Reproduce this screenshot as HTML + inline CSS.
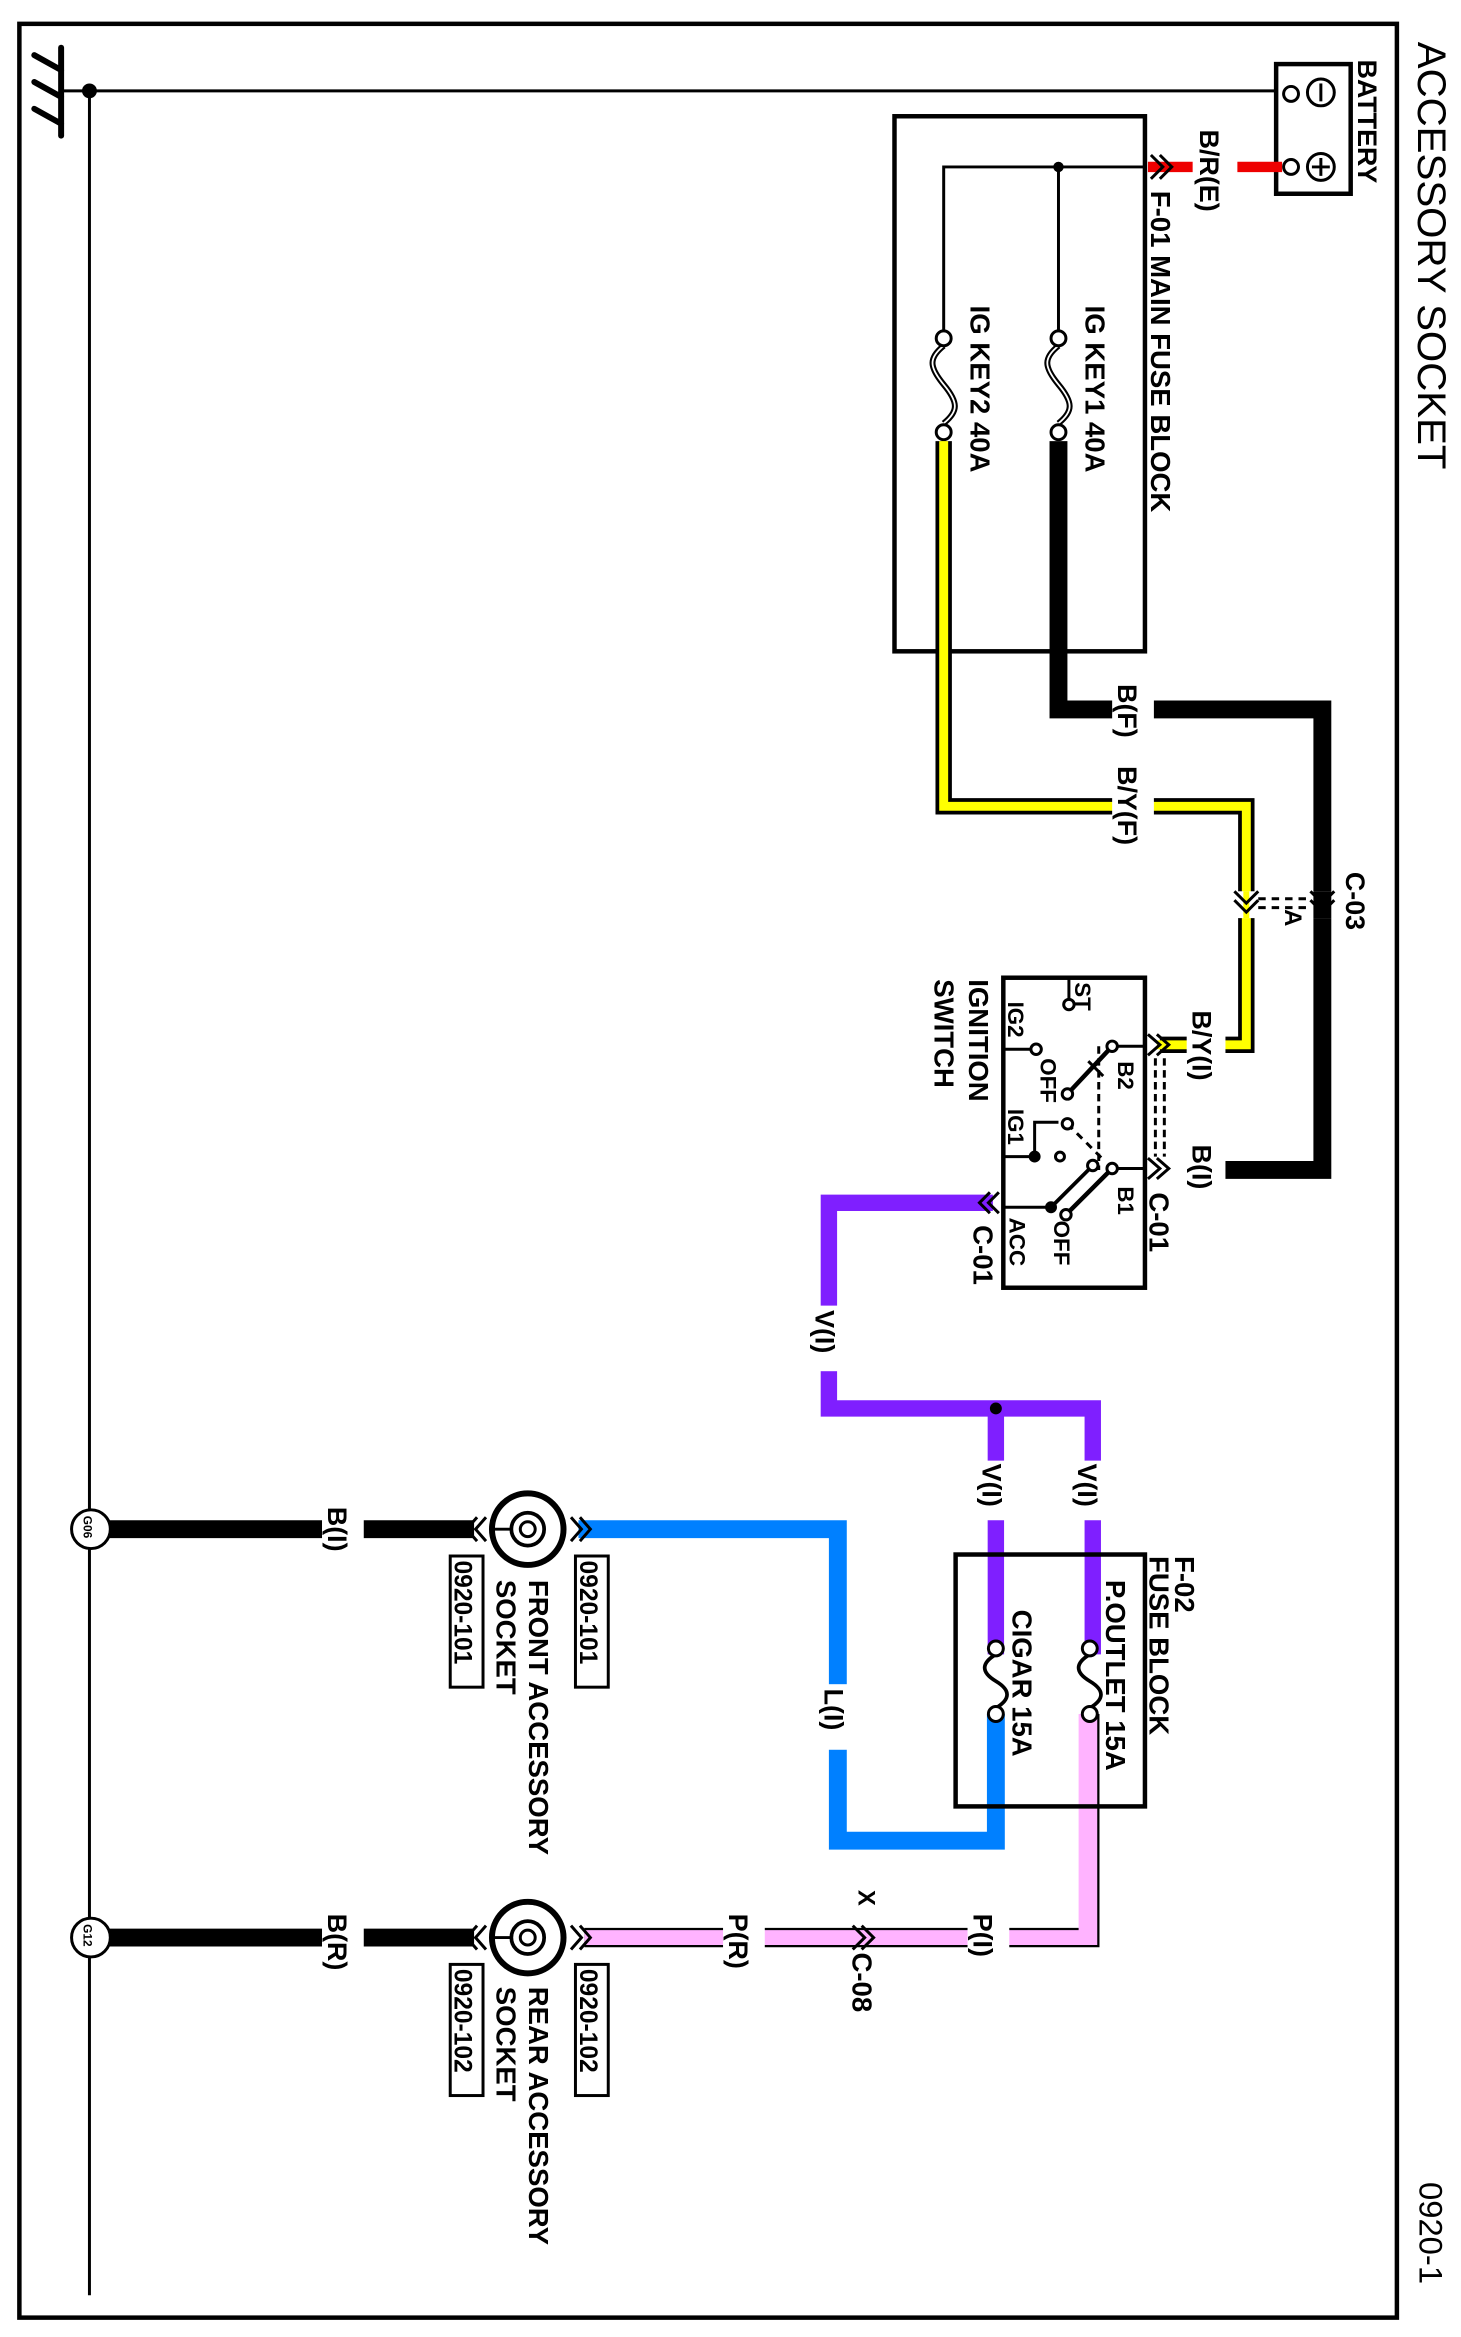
<!DOCTYPE html>
<html><head><meta charset="utf-8"><style>
html,body{margin:0;padding:0;background:#fff}
svg{display:block}
text{font-family:"Liberation Sans",Arial,sans-serif;font-weight:bold;fill:#000}
</style></head><body>
<svg width="1461" height="2337" viewBox="0 0 980 1568" preserveAspectRatio="none" xmlns="http://www.w3.org/2000/svg">
<rect x="0" y="0" width="980" height="1568" fill="#fff"/>
<rect x="13" y="16" width="924" height="1539" fill="none" stroke="#000" stroke-width="3"/>

<text transform="translate(951,28) rotate(90)" font-size="27" style="font-weight:normal">ACCESSORY SOCKET</text>
<text transform="translate(952,1464) rotate(90)" font-size="22" style="font-weight:normal">0920-1</text>

<g stroke="#000" stroke-width="4" stroke-linecap="round">
<line x1="41" y1="32" x2="41" y2="91"/>
<line x1="23" y1="37" x2="41" y2="47"/>
<line x1="23" y1="55" x2="41" y2="65"/>
<line x1="23" y1="73" x2="41" y2="83"/>
</g>
<line x1="41" y1="61" x2="862" y2="61" stroke="#000" stroke-width="2"/>
<circle cx="60" cy="61" r="5" fill="#000"/>
<line x1="60" y1="61" x2="60" y2="1540" stroke="#000" stroke-width="2"/>

<rect x="856" y="43" width="50" height="87" fill="#fff" stroke="#000" stroke-width="3"/>
<circle cx="866" cy="63" r="5" fill="#fff" stroke="#000" stroke-width="2"/>
<circle cx="886" cy="62" r="9" fill="#fff" stroke="#000" stroke-width="2"/>
<line x1="886" y1="56" x2="886" y2="68" stroke="#000" stroke-width="2"/>
<circle cx="866" cy="112" r="5" fill="#fff" stroke="#000" stroke-width="2"/>
<circle cx="886" cy="112" r="9" fill="#fff" stroke="#000" stroke-width="2"/>
<line x1="886" y1="106" x2="886" y2="118" stroke="#000" stroke-width="2"/>
<line x1="880" y1="112" x2="892" y2="112" stroke="#000" stroke-width="2"/>
<text transform="translate(911,40) rotate(90)" font-size="18">BATTERY</text>

<line x1="770" y1="112" x2="860" y2="112" stroke="#e00" stroke-width="7"/>
<rect x="800" y="85" width="30" height="64" fill="#fff"/>
<text transform="translate(805,87) rotate(90)" font-size="18">B/R(E)</text>

<rect x="600" y="78" width="168" height="359" fill="none" stroke="#000" stroke-width="3"/>
<polyline points="772,104 780,112 772,120" fill="none" stroke="#000" stroke-width="2"/>
<polyline points="778,104 786,112 778,120" fill="none" stroke="#000" stroke-width="2"/>
<text transform="translate(772,128) rotate(90)" font-size="18.5">F-01 MAIN FUSE BLOCK</text>
<polyline points="633,225 633,112 768,112" fill="none" stroke="#000" stroke-width="2"/>
<line x1="710" y1="112" x2="710" y2="225" stroke="#000" stroke-width="2"/>
<circle cx="710" cy="112" r="3.5" fill="#000"/>
<g fill="#fff" stroke="#000" stroke-width="2">
<path d="M710,232 C700,240 700,246 710,258 C720,270 720,276 710,284" fill="none" stroke-width="4"/>
<path d="M710,232 C700,240 700,246 710,258 C720,270 720,276 710,284" fill="none" stroke="#fff" stroke-width="1.2"/>
<circle cx="710" cy="227" r="5"/><circle cx="710" cy="290" r="5"/>
<path d="M633,232 C623,240 623,246 633,258 C643,270 643,276 633,284" fill="none" stroke-width="4"/>
<path d="M633,232 C623,240 623,246 633,258 C643,270 643,276 633,284" fill="none" stroke="#fff" stroke-width="1.2"/>
<circle cx="633" cy="227" r="5"/><circle cx="633" cy="290" r="5"/>
</g>
<text transform="translate(728,205) rotate(90)" font-size="18.5">IG KEY1  40A</text>
<text transform="translate(651,205) rotate(90)" font-size="18.5">IG KEY2  40A</text>

<polyline points="710,296 710,476 887,476 887,785 800,785" fill="none" stroke="#000" stroke-width="12"/>
<rect x="746" y="455" width="28" height="45" fill="#fff"/>
<text transform="translate(750,459) rotate(90)" font-size="18">B(F)</text>
<polyline points="633,296 633,541 836,541 836,701 778,701" fill="none" stroke="#000" stroke-width="11"/>
<polyline points="633,296 633,541 836,541 836,701 776,701" fill="none" stroke="#ff0" stroke-width="6"/>
<rect x="746" y="512" width="28" height="60" fill="#fff"/>
<text transform="translate(750,514) rotate(90)" font-size="18">B/Y(F)</text>

<rect x="826" y="598" width="70" height="18" fill="#fff"/>
<line x1="836" y1="598" x2="836" y2="616" stroke="#ff0" stroke-width="4"/>
<line x1="887" y1="598" x2="887" y2="616" stroke="#000" stroke-width="12"/>
<g fill="none" stroke="#000" stroke-width="2">
<polyline points="828,598 836,606 844,598"/><polyline points="828,604 836,612 844,604"/>
<polyline points="879,598 887,606 895,598"/><polyline points="879,604 887,612 895,604"/>
<line x1="844" y1="603" x2="879" y2="603" stroke-dasharray="5,4"/>
<line x1="844" y1="609" x2="879" y2="609" stroke-dasharray="5,4"/>
</g>
<text transform="translate(862,610) rotate(90)" font-size="16">A</text>
<text transform="translate(903,585) rotate(90)" font-size="18">C-03</text>

<rect x="673" y="656" width="95" height="208" fill="#fff" stroke="#000" stroke-width="3"/>
<rect x="796" y="676" width="26" height="52" fill="#fff"/>
<rect x="796" y="766" width="26" height="40" fill="#fff"/>
<g fill="none" stroke="#000" stroke-width="2">
<polyline points="770,694 778,701 770,708"/><polyline points="776,694 784,701 776,708"/>
<polyline points="770,777 778,784 770,791"/><polyline points="776,777 784,784 776,791"/>
<line x1="775" y1="710" x2="775" y2="776" stroke-dasharray="5,3"/>
<line x1="781" y1="710" x2="781" y2="776" stroke-dasharray="5,3"/>
</g>
<text transform="translate(800,678) rotate(90)" font-size="18">B/Y(I)</text>
<text transform="translate(800,768) rotate(90)" font-size="18">B(I)</text>
<text transform="translate(771,800) rotate(90)" font-size="18.5">C-01</text>
<g stroke="#000" stroke-width="2" fill="#fff">
<line x1="746" y1="702" x2="768" y2="702"/>
<line x1="746" y1="784" x2="768" y2="784"/>
<line x1="673" y1="704" x2="695" y2="704"/>
<line x1="717" y1="674" x2="717" y2="656"/>
<line x1="746" y1="702" x2="716" y2="734" stroke-width="3"/>
<line x1="746" y1="784" x2="715" y2="815" stroke-width="3"/>
<line x1="673" y1="776" x2="694" y2="776"/>
<polyline points="694,776 694,753 710,753" fill="none"/>
<line x1="673" y1="810" x2="705" y2="810"/>
<line x1="705" y1="810" x2="733" y2="782" stroke-width="2.5"/>
<line x1="737" y1="702" x2="737" y2="785" stroke-dasharray="5,3" fill="none"/>
<line x1="716" y1="754" x2="740" y2="778" stroke-dasharray="5,4" fill="none"/>
<line x1="730" y1="712" x2="740" y2="722" fill="none"/>
<circle cx="746" cy="702" r="3.5"/><circle cx="716" cy="734" r="3.5"/>
<circle cx="695" cy="704" r="3.5"/><circle cx="717" cy="674" r="3.5"/>
<circle cx="746" cy="784" r="3.5"/><circle cx="715" cy="815" r="3.5"/>
<circle cx="716" cy="754" r="3.5"/><circle cx="711" cy="776" r="3"/>
<circle cx="733" cy="782" r="3.5"/>
</g>
<circle cx="694" cy="776" r="4" fill="#000"/>
<circle cx="705" cy="810" r="4" fill="#000"/>
<text transform="translate(721,659) rotate(90)" font-size="15">ST</text>
<text transform="translate(676,672) rotate(90)" font-size="15">IG2</text>
<text transform="translate(676,744) rotate(90)" font-size="15">IG1</text>
<text transform="translate(698,710) rotate(90)" font-size="15">OFF</text>
<text transform="translate(750,712) rotate(90)" font-size="15">B2</text>
<text transform="translate(750,796) rotate(90)" font-size="15">B1</text>
<text transform="translate(677,817) rotate(90)" font-size="15">ACC</text>
<text transform="translate(707,819) rotate(90)" font-size="15">OFF</text>
<text transform="translate(650,657) rotate(90)" font-size="18.5">IGNITION</text>
<text transform="translate(627,657) rotate(90)" font-size="18.5">SWITCH</text>

<polyline points="666,807 556,807 556,945 733,945 733,1110" fill="none" stroke="#7f1fff" stroke-width="11"/>
<line x1="668" y1="945" x2="668" y2="1110" stroke="#7f1fff" stroke-width="11"/>
<circle cx="668" cy="945" r="4" fill="#000"/>
<g fill="none" stroke="#000" stroke-width="2">
<polyline points="664,800 657,807 664,814"/><polyline points="670,800 663,807 670,814"/>
</g>
<text transform="translate(653,822) rotate(90)" font-size="18.5">C-01</text>
<rect x="543" y="876" width="28" height="44" fill="#fff"/>
<text transform="translate(547,879) rotate(90)" font-size="18">V(I)</text>
<rect x="655" y="980" width="28" height="40" fill="#fff"/>
<text transform="translate(659,982) rotate(90)" font-size="18">V(I)</text>
<rect x="719" y="980" width="28" height="40" fill="#fff"/>
<text transform="translate(723,982) rotate(90)" font-size="18">V(I)</text>

<polyline points="668,1150 668,1235 562,1235 562,1026 388,1026" fill="none" stroke="#0080ff" stroke-width="12"/>
<rect x="549" y="1130" width="28" height="44" fill="#fff"/>
<text transform="translate(553,1133) rotate(90)" font-size="18">L(I)</text>
<polyline points="731,1150 731,1300 392,1300" fill="none" stroke="#000" stroke-width="13"/>
<polyline points="731,1150 731,1300 392,1300" fill="none" stroke="#ffb3ff" stroke-width="10"/>
<polyline points="725,1150 725,1300" fill="none" stroke="#ffb3ff" stroke-width="3"/>
<rect x="649" y="1282" width="28" height="40" fill="#fff"/>
<text transform="translate(653,1284) rotate(90)" font-size="18">P(I)</text>
<rect x="485" y="1281" width="28" height="44" fill="#fff"/>
<text transform="translate(489,1284) rotate(90)" font-size="18">P(R)</text>
<g fill="none" stroke="#000" stroke-width="2">
<polyline points="572,1292 580,1300 572,1308"/><polyline points="578,1292 586,1300 578,1308"/>
</g>
<text transform="translate(576,1268) rotate(90)" font-size="16">X</text>
<text transform="translate(572,1310) rotate(90)" font-size="18.5">C-08</text>

<rect x="641" y="1043" width="127" height="169" fill="none" stroke="#000" stroke-width="3"/>
<g fill="#fff" stroke="#000" stroke-width="2">
<path d="M731,1110 C721,1116 721,1122 731,1128 C741,1134 741,1140 731,1146" fill="none" stroke-width="2.5"/>
<circle cx="731" cy="1106" r="5"/><circle cx="731" cy="1150" r="5"/>
<path d="M668,1110 C658,1116 658,1122 668,1128 C678,1134 678,1140 668,1146" fill="none" stroke-width="2.5"/>
<circle cx="668" cy="1106" r="5"/><circle cx="668" cy="1150" r="5"/>
</g>
<text transform="translate(742,1060) rotate(90)" font-size="18.5">P.OUTLET 15A</text>
<text transform="translate(679,1080) rotate(90)" font-size="18.5">CIGAR 15A</text>
<text transform="translate(788,1044) rotate(90)" font-size="18.5">F-02</text>
<text transform="translate(771,1044) rotate(90)" font-size="18.5">FUSE BLOCK</text>

<line x1="73" y1="1026" x2="318" y2="1026" stroke="#000" stroke-width="12"/>
<rect x="216" y="1008" width="28" height="38" fill="#fff"/>
<text transform="translate(220,1011) rotate(90)" font-size="18">B(I)</text>
<circle cx="61" cy="1026" r="13" fill="#fff" stroke="#000" stroke-width="2"/>
<text transform="translate(56,1017) rotate(90)" font-size="8">G06</text>
<circle cx="354" cy="1026" r="24" fill="#fff" stroke="#000" stroke-width="4"/>
<circle cx="354" cy="1026" r="11" fill="none" stroke="#000" stroke-width="2.5"/>
<circle cx="354" cy="1026" r="5" fill="#fff" stroke="#000" stroke-width="2"/>
<line x1="330" y1="1026" x2="343" y2="1026" stroke="#000" stroke-width="2"/>
<g fill="none" stroke="#000" stroke-width="2">
<polyline points="383,1018 390,1026 383,1034"/><polyline points="389,1018 396,1026 389,1034"/>
<polyline points="326,1018 319,1026 326,1034"/><polyline points="320,1018 313,1026 320,1034"/>
</g>
<rect x="386" y="1044" width="22" height="88" fill="#fff" stroke="#000" stroke-width="2"/>
<text transform="translate(389,1047) rotate(90)" font-size="16.5">0920-101</text>
<rect x="302" y="1044" width="22" height="88" fill="#fff" stroke="#000" stroke-width="2"/>
<text transform="translate(305,1047) rotate(90)" font-size="16.5">0920-101</text>
<text transform="translate(355,1060) rotate(90)" font-size="18.5">FRONT ACCESSORY</text>
<text transform="translate(333,1060) rotate(90)" font-size="18.5">SOCKET</text>

<line x1="73" y1="1300" x2="318" y2="1300" stroke="#000" stroke-width="12"/>
<rect x="216" y="1281" width="28" height="42" fill="#fff"/>
<text transform="translate(220,1284) rotate(90)" font-size="18">B(R)</text>
<circle cx="61" cy="1300" r="13" fill="#fff" stroke="#000" stroke-width="2"/>
<text transform="translate(56,1291) rotate(90)" font-size="8">G12</text>
<circle cx="354" cy="1300" r="24" fill="#fff" stroke="#000" stroke-width="4"/>
<circle cx="354" cy="1300" r="11" fill="none" stroke="#000" stroke-width="2.5"/>
<circle cx="354" cy="1300" r="5" fill="#fff" stroke="#000" stroke-width="2"/>
<line x1="330" y1="1300" x2="343" y2="1300" stroke="#000" stroke-width="2"/>
<g fill="none" stroke="#000" stroke-width="2">
<polyline points="383,1292 390,1300 383,1308"/><polyline points="389,1292 396,1300 389,1308"/>
<polyline points="326,1292 319,1300 326,1308"/><polyline points="320,1292 313,1300 320,1308"/>
</g>
<rect x="386" y="1318" width="22" height="88" fill="#fff" stroke="#000" stroke-width="2"/>
<text transform="translate(389,1321) rotate(90)" font-size="16.5">0920-102</text>
<rect x="302" y="1318" width="22" height="88" fill="#fff" stroke="#000" stroke-width="2"/>
<text transform="translate(305,1321) rotate(90)" font-size="16.5">0920-102</text>
<text transform="translate(355,1333) rotate(90)" font-size="18.5">REAR ACCESSORY</text>
<text transform="translate(333,1333) rotate(90)" font-size="18.5">SOCKET</text>
</svg>
</body></html>
